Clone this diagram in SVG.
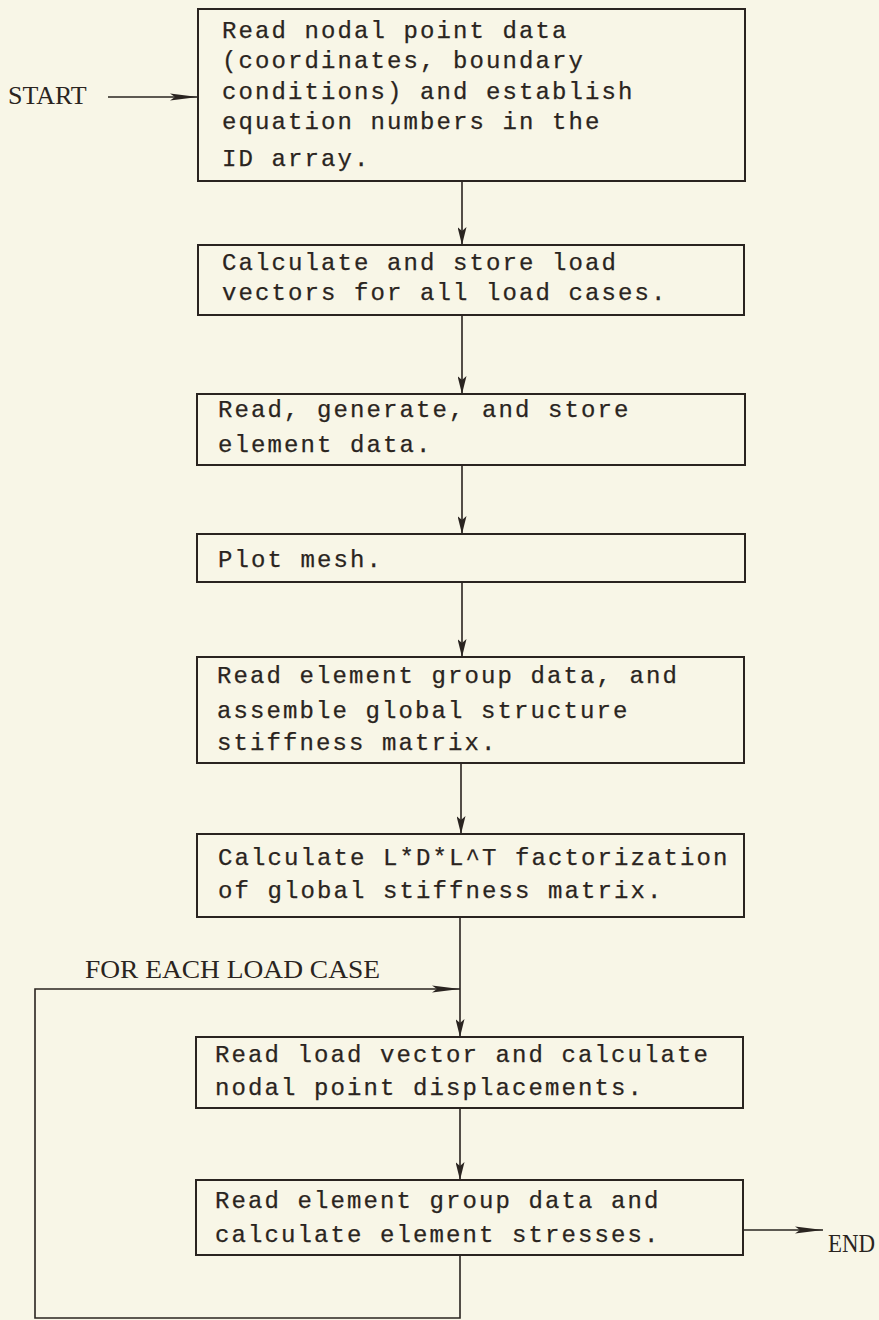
<svg xmlns="http://www.w3.org/2000/svg" width="879" height="1320" viewBox="0 0 879 1320">
<style>
.bg{fill:#f8f6e7}
.box{fill:none;stroke:#2a2420;stroke-width:2}
.t{font-family:"Liberation Mono","Courier New",monospace;font-size:24px;letter-spacing:2.1px;fill:#2a2420;stroke:#2a2420;stroke-width:0.25}
.lbl{font-family:"Liberation Serif","Times New Roman",serif;font-size:26px;fill:#2a2420}
.c{fill:none;stroke:#2a2420;stroke-width:1.6}
</style>
<defs>
<marker id="av" viewBox="0 0 18 9" refX="18" refY="4.5" markerWidth="18" markerHeight="9" markerUnits="userSpaceOnUse" orient="auto">
<path d="M0,0 L18,4.5 L0,9 L4,4.5 Z" fill="#2a2420"/>
</marker>
<marker id="ah" viewBox="0 0 28 10" refX="28" refY="5" markerWidth="28" markerHeight="10" markerUnits="userSpaceOnUse" orient="auto">
<path d="M0,1.5 L28,5 L0,8.5 L5,5 Z" fill="#2a2420"/>
</marker>
</defs>
<rect class="bg" x="0" y="0" width="879" height="1320"/>

<g id="connectors">
<line class="c" x1="108" y1="97" x2="198" y2="97" marker-end="url(#ah)"/>
<line class="c" x1="462" y1="181" x2="462" y2="245" marker-end="url(#av)"/>
<line class="c" x1="462" y1="315" x2="462" y2="394" marker-end="url(#av)"/>
<line class="c" x1="462" y1="465" x2="462" y2="534" marker-end="url(#av)"/>
<line class="c" x1="462" y1="582" x2="462" y2="657" marker-end="url(#av)"/>
<line class="c" x1="461" y1="763" x2="461" y2="834" marker-end="url(#av)"/>
<line class="c" x1="460" y1="917" x2="460" y2="1037" marker-end="url(#av)"/>
<line class="c" x1="460" y1="1108" x2="460" y2="1180" marker-end="url(#av)"/>
<polyline class="c" points="460,1255 460,1318 35,1318 35,989 460,989" marker-end="url(#ah)"/>
<line class="c" x1="743" y1="1230" x2="823" y2="1230" marker-end="url(#ah)"/>
</g>

<g id="start"><text class="lbl" x="8" y="104">START</text></g>

<g id="n1">
<rect class="box" x="198" y="9" width="547" height="172"/>
<text class="t" x="222" y="38">Read nodal point data</text>
<text class="t" x="222" y="68">(coordinates, boundary</text>
<text class="t" x="222" y="99">conditions) and establish</text>
<text class="t" x="222" y="129">equation numbers in the</text>
<text class="t" x="222" y="166">ID array.</text>
</g>

<g id="n2">
<rect class="box" x="198" y="245" width="546" height="70"/>
<text class="t" x="222" y="270">Calculate and store load</text>
<text class="t" x="222" y="300">vectors for all load cases.</text>
</g>

<g id="n3">
<rect class="box" x="197" y="394" width="548" height="71"/>
<text class="t" x="218" y="417">Read, generate, and store</text>
<text class="t" x="218" y="452">element data.</text>
</g>

<g id="n4">
<rect class="box" x="197" y="534" width="548" height="48"/>
<text class="t" x="218" y="567">Plot mesh.</text>
</g>

<g id="n5">
<rect class="box" x="197" y="657" width="547" height="106"/>
<text class="t" x="217" y="683">Read element group data, and</text>
<text class="t" x="217" y="718">assemble global structure</text>
<text class="t" x="217" y="750">stiffness matrix.</text>
</g>

<g id="n6">
<rect class="box" x="197" y="834" width="547" height="83"/>
<text class="t" x="218" y="865">Calculate L*D*L^T factorization</text>
<text class="t" x="218" y="898">of global stiffness matrix.</text>
</g>

<g id="loop-label"><text class="lbl" x="85" y="978" textLength="295" lengthAdjust="spacingAndGlyphs">FOR EACH LOAD CASE</text></g>

<g id="n7">
<rect class="box" x="196" y="1037" width="547" height="71"/>
<text class="t" x="215" y="1062">Read load vector and calculate</text>
<text class="t" x="215" y="1095">nodal point displacements.</text>
</g>

<g id="n8">
<rect class="box" x="196" y="1180" width="547" height="75"/>
<text class="t" x="215" y="1208">Read element group data and</text>
<text class="t" x="215" y="1242">calculate element stresses.</text>
</g>

<g id="end"><text class="lbl" x="828" y="1252" textLength="47" lengthAdjust="spacingAndGlyphs">END</text></g>
</svg>
